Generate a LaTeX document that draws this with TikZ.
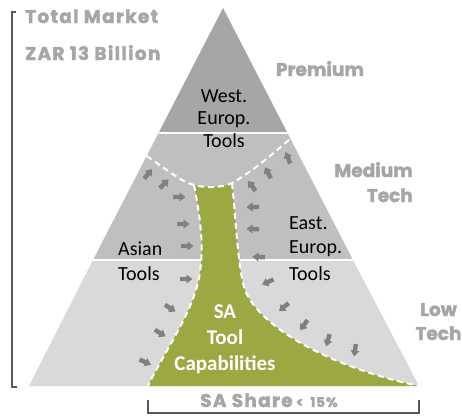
\documentclass[tikz,border=0pt]{standalone}
\usepackage{fontspec}
\setmainfont{Carlito}
\newfontfamily\geofont[BoldFeatures={FakeBold=2}]{Poppins}
\newfontfamily\geowide[BoldFeatures={FakeBold=2}, LetterSpace=7]{Poppins}
\definecolor{topband}{HTML}{A6A6A6}
\definecolor{midband}{HTML}{BFBFBF}
\definecolor{lowband}{HTML}{D9D9D9}
\definecolor{sagreen}{HTML}{9CA842}
\definecolor{labelgray}{HTML}{A6A6A6}
\definecolor{arrowgray}{HTML}{808080}
\definecolor{bracketgray}{HTML}{595959}
\tikzset{
  bandline/.style={white, line width=2.5pt},
  dashline/.style={white, line width=2pt, dash pattern=on 6pt off 4pt},
  glabel/.style={text=labelgray, font=\geofont\bfseries\fontsize{18.5}{22}\selectfont, inner sep=0pt},
  gwide/.style={glabel, font=\geowide\bfseries\fontsize{18.5}{22}\selectfont},
  blabel/.style={text=black, font=\fontsize{20}{23}\selectfont, inner sep=0pt},
  wlabel/.style={text=white, font=\bfseries\fontsize{21}{25}\selectfont, inner sep=0pt},
  bracket/.style={bracketgray, line width=2pt},
  flowarrow/.pic={\fill[arrowgray] (-6,-2.2) -- (0.5,-2.2) -- (0.5,-4.5) -- (6.5,0) -- (0.5,4.5) -- (0.5,2.2) -- (-6,2.2) -- cycle;}
}
\begin{document}
\begin{tikzpicture}[x=1pt,y=-1pt]
\useasboundingbox (0,0) rectangle (462,418);
% triangle corners and band points
\coordinate (apex) at (223,8);
\coordinate (bl) at (29,386);
\coordinate (br) at (419,386);
\coordinate (l1) at (158.5,133);
\coordinate (r1) at (287.5,133);
\coordinate (l2) at (93,260);
\coordinate (r2) at (353,260);
% bands
\fill[topband] (apex) -- (r1) -- (l1) -- cycle;
\fill[midband] (l1) -- (r1) -- (r2) -- (l2) -- cycle;
\fill[lowband] (l2) -- (r2) -- (br) -- (bl) -- cycle;
\draw[bandline] (l1) -- (r1);
\draw[bandline] (l2) -- (r2);
% green region
\coordinate (gl) at (194,185);
\coordinate (gr) at (232,183);
\coordinate (gb) at (148,386);
\fill[sagreen] (gl) .. controls (200,215) and (204,245) .. (200,272)
  .. controls (195,310) and (165,350) .. (gb) -- (br)
  .. controls (320,365) and (250,320) .. (243,283)
  .. controls (237,255) and (236,220) .. (gr)
  .. controls (222,188) and (205,188) .. (gl) -- cycle;
% dashed boundaries
\coordinate (cl) at (146.7,156);
\coordinate (cr) at (291,138);
\draw[dashline] (cl) .. controls (170,172) and (182,182) .. (gl)
  .. controls (205,188) and (222,188) .. (gr)
  .. controls (250,173) and (272,155) .. (cr);
\draw[dashline] (gl) .. controls (200,215) and (204,245) .. (200,272)
  .. controls (195,310) and (165,350) .. (gb);
\draw[dashline] (gr) .. controls (236,220) and (237,255) .. (243,283)
  .. controls (250,320) and (320,365) .. (br);
% arrows left
\foreach \x/\y/\a in {148/174/50, 164/184/45, 179/197/0, 183/224/0, 187/246/0,
  186/279/0, 170/308/-32, 160/333/-32, 145/362/-25}
  \pic[rotate=\a] at (\x,\y) {flowarrow};
% arrows right
\foreach \x/\y/\a in {288/158/112, 268/173/118, 252/186/125, 253/207/180, 253/229/178,
  259/257/178, 268/282/205, 284/307/220, 304/325/235, 328/340/255, 355/350/262}
  \pic[rotate=\a] at (\x,\y) {flowarrow};
% black labels
\node[blabel, anchor=base] (west) at (224,102) {West.};
\node[blabel, anchor=base] (europ) at (224,124.5) {Europ.};
\node[blabel, anchor=base] (tools1) at (224,147) {Tools};
\node[blabel, anchor=base west] (asian) at (118,255) {Asian};
\node[blabel, anchor=base west] (tools2) at (118,280) {Tools};
\node[blabel, anchor=base west] (east) at (289,229) {East.};
\node[blabel, anchor=base west] (europ2) at (289,253) {Europ.};
\node[blabel, anchor=base west] (tools3) at (289,280) {Tools};
% white labels
\node[wlabel, anchor=base] (sa) at (225,318) {SA};
\node[wlabel, anchor=base] (tool) at (225,344) {Tool};
\node[wlabel, anchor=base] (cap) at (225,370) {Capabilities};
% gray labels
\node[gwide, anchor=base west] (total) at (25,23) {Total Market};
\node[gwide, anchor=base west] (zar) at (25,60) {ZAR 13 Billion};
\node[glabel, anchor=base] (prem) at (320,76) {Premium};
\node[glabel, anchor=base east] (med) at (413,177) {Medium};
\node[glabel, anchor=base east] (tech1) at (413,202) {Tech};
\node[glabel, anchor=base] (low) at (438.5,316) {Low};
\node[glabel, anchor=base] (tech2) at (438.5,340) {Tech};
\node[gwide, anchor=base west] (share) at (200,407) {SA Share};
\node[glabel, anchor=base west, font=\geowide\bfseries\fontsize{13.5}{16}\selectfont] (pct) at ([xshift=3pt]share.base east) {<\enspace15\%};
% brackets
\coordinate (lbt) at (16,12);
\coordinate (lbb) at (17,387);
\draw[bracket] (lbt) -- (12,12) -- (12,387) -- (lbb);
\coordinate (bbl) at (148,400);
\coordinate (bbr) at (419,400);
\draw[bracket] (bbl) -- (148,413) -- (419,413) -- (bbr);
\end{tikzpicture}
\end{document}
